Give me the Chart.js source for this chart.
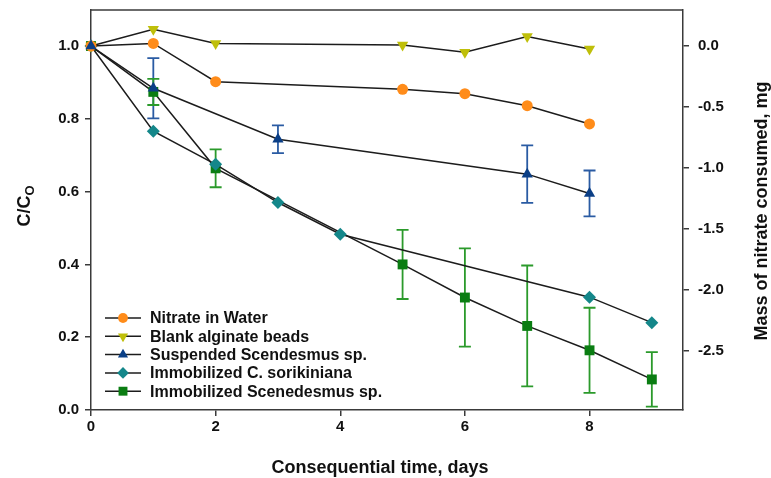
<!DOCTYPE html>
<html lang="en">
<head>
    <meta charset="UTF-8">
    <title>Nitrate removal</title>
    <script src="https://cdn.jsdelivr.net/npm/chart.js@4.4.0/dist/chart.umd.min.js"></script>
    <style>
        body {
            margin: 0;
            padding: 0;
            background: #ffffff;
        }
        .chart-box {
            width: 771px;
            height: 478px;
        }
    </style>
</head>
<body>
    <div class="chart-box">
        <canvas id="nitrateChart"></canvas>
    </div>

    <script>
        // values (C/Co against days)
        const waterDays = [0, 1, 2, 5, 6, 7, 8];
        const waterCC = [1.0, 1.007, 0.902, 0.881, 0.869, 0.836, 0.786];

        const blankDays = [0, 1, 2, 5, 6, 7, 8];
        const blankCC = [1.0, 1.046, 1.007, 1.003, 0.983, 1.026, 0.992];

        const suspDays = [0, 1, 3, 7, 8];
        const suspCC = [1.0, 0.884, 0.744, 0.648, 0.595];
        const suspErr = [0, 0.083, 0.038, 0.079, 0.063];

        const soroDays = [0, 1, 2, 3, 4, 8, 9];
        const soroCC = [1.0, 0.766, 0.675, 0.570, 0.483, 0.310, 0.240];

        const immoDays = [0, 1, 2, 5, 6, 7, 8, 9];
        const immoCC = [1.0, 0.874, 0.664, 0.400, 0.309, 0.231, 0.164, 0.084];
        const immoErr = [0, 0.036, 0.052, 0.095, 0.135, 0.166, 0.117, 0.075];

        const seriesNames = [
            'Nitrate in Water',
            'Blank alginate beads',
            'Suspended Scendesmus sp.',
            'Immobilized C. sorikiniana',
            'Immobilized Scenedesmus sp.'
        ];

        const xTicks = [0, 2, 4, 6, 8];
        const leftTicks = [0, 0.2, 0.4, 0.6, 0.8, 1.0];
        const rightTicks = [0, -0.5, -1.0, -1.5, -2.0, -2.5];

        const FONT = 'Arial, "Liberation Sans", sans-serif';
        const LINE = '#1c1c1c';
        const AXIS = '#3a3a3a';

        function pts(xs, ys) {
            return xs.map((x, i) => ({ x: x, y: ys[i] }));
        }

        function makeSet(label, xs, ys, color, style, radius, rotation, err, errColor) {
            return {
                label: label,
                data: pts(xs, ys),
                showLine: true,
                borderColor: LINE,
                borderWidth: 1.5,
                pointStyle: style,
                pointRadius: radius,
                pointRotation: rotation,
                pointBackgroundColor: color,
                pointBorderColor: color,
                pointBorderWidth: 0,
                clip: false,
                order: 0,
                errors: err || null,
                errorColor: errColor || null
            };
        }

        const datasets = [
            makeSet(seriesNames[0], waterDays, waterCC, '#ff8c1a', 'circle', 5.5, 0),
            makeSet(seriesNames[1], blankDays, blankCC, '#bfbf0a', 'triangle', 6.5, 180),
            makeSet(seriesNames[2], suspDays, suspCC, '#0b3f86', 'triangle', 6.5, 0, suspErr, '#2a5ba3'),
            makeSet(seriesNames[3], soroDays, soroCC, '#14878a', 'rectRot', 6.5, 0),
            makeSet(seriesNames[4], immoDays, immoCC, '#0a7d12', 'rect', 7, 0, immoErr, '#2b9a2b')
        ];
        // suspended series sits on top of the others at day 0
        datasets[2].order = -1;

        function drawMarker(ctx, style, r, rot, x, y, color) {
            ctx.save();
            ctx.fillStyle = color;
            ctx.translate(x, y);
            ctx.rotate(rot * Math.PI / 180);
            ctx.beginPath();
            if (style === 'circle') {
                ctx.arc(0, 0, r, 0, Math.PI * 2);
            } else if (style === 'triangle') {
                ctx.moveTo(0, -r);
                ctx.lineTo(r * 0.866, r * 0.5);
                ctx.lineTo(-r * 0.866, r * 0.5);
                ctx.closePath();
            } else if (style === 'rectRot') {
                ctx.moveTo(0, -r);
                ctx.lineTo(r, 0);
                ctx.lineTo(0, r);
                ctx.lineTo(-r, 0);
                ctx.closePath();
            } else {
                const h = r * Math.SQRT1_2;
                ctx.rect(-h, -h, 2 * h, 2 * h);
            }
            ctx.fill();
            ctx.restore();
        }

        // error bars, drawn under the markers
        const errorBars = {
            id: 'errorBars',
            beforeDatasetsDraw(chart) {
                const ctx = chart.ctx;
                const xs = chart.scales.x;
                const ys = chart.scales.y;
                chart.data.datasets.forEach(ds => {
                    if (!ds.errors) return;
                    ctx.save();
                    ctx.strokeStyle = ds.errorColor;
                    ctx.lineWidth = 1.8;
                    ds.data.forEach((p, i) => {
                        const e = ds.errors[i];
                        if (!e) return;
                        const px = xs.getPixelForValue(p.x);
                        const top = ys.getPixelForValue(p.y + e);
                        const bot = ys.getPixelForValue(p.y - e);
                        ctx.beginPath();
                        ctx.moveTo(px, top);
                        ctx.lineTo(px, bot);
                        ctx.moveTo(px - 6, top);
                        ctx.lineTo(px + 6, top);
                        ctx.moveTo(px - 6, bot);
                        ctx.lineTo(px + 6, bot);
                        ctx.stroke();
                    });
                    ctx.restore();
                });
            }
        };

        // frame, axis titles and the legend
        const decorations = {
            id: 'decorations',
            afterDraw(chart) {
                const ctx = chart.ctx;
                const a = chart.chartArea;
                ctx.save();
                ctx.strokeStyle = AXIS;
                ctx.lineWidth = 1.5;
                ctx.beginPath();
                ctx.moveTo(a.left, a.top);
                ctx.lineTo(a.right, a.top);
                ctx.stroke();

                ctx.fillStyle = '#111';
                ctx.textBaseline = 'middle';

                // bottom title
                ctx.font = 'bold 18px ' + FONT;
                ctx.textAlign = 'center';
                ctx.fillText('Consequential time, days', 380, 468);

                // right title
                ctx.save();
                ctx.translate(762, 211);
                ctx.rotate(-Math.PI / 2);
                ctx.fillText('Mass of nitrate consumed, mg', 0, 0);
                ctx.restore();

                // left title C/Co with subscript
                ctx.save();
                ctx.translate(25, 206);
                ctx.rotate(-Math.PI / 2);
                const main = 'C/C';
                ctx.font = 'bold 13px ' + FONT;
                const subW = ctx.measureText('O').width;
                ctx.font = 'bold 18px ' + FONT;
                const mainW = ctx.measureText(main).width;
                const start = -(mainW + subW) / 2;
                ctx.textAlign = 'left';
                ctx.fillText(main, start, 0);
                ctx.font = 'bold 13px ' + FONT;
                ctx.fillText('O', start + mainW, 5);
                ctx.restore();

                // legend
                const lx = a.left + 14;
                let ly = a.bottom - 92;
                ctx.textAlign = 'left';
                ctx.font = 'bold 16px ' + FONT;
                chart.data.datasets.forEach(ds => {
                    ctx.strokeStyle = LINE;
                    ctx.lineWidth = 1.5;
                    ctx.beginPath();
                    ctx.moveTo(lx, ly);
                    ctx.lineTo(lx + 36, ly);
                    ctx.stroke();
                    drawMarker(ctx, ds.pointStyle, ds.pointRadius * 0.9, ds.pointRotation,
                        lx + 18, ly, ds.pointBackgroundColor);
                    ctx.fillStyle = '#111';
                    ctx.fillText(ds.label, lx + 45, ly + 1);
                    ly += 18.3;
                });
                ctx.restore();
            }
        };

        const tickFont = { family: FONT, size: 15, weight: 'bold' };

        function fixWidth(w) {
            return s => {
                s.width = w;
                s.paddingTop = 0;
                s.paddingBottom = 0;
            };
        }

        new Chart(document.getElementById('nitrateChart'), {
            type: 'scatter',
            data: { datasets: datasets },
            options: {
                responsive: true,
                maintainAspectRatio: false,
                animation: false,
                layout: { padding: { top: 10, left: 0, right: 0, bottom: 0 } },
                plugins: {
                    legend: { display: false },
                    tooltip: { enabled: false }
                },
                scales: {
                    x: {
                        type: 'linear',
                        min: 0,
                        max: 9.5,
                        afterBuildTicks: s => { s.ticks = xTicks.map(v => ({ value: v })); },
                        afterFit: s => { s.height = 68; s.paddingLeft = 0; s.paddingRight = 0; },
                        grid: { drawOnChartArea: false, drawTicks: true, tickLength: 6, tickColor: AXIS, lineWidth: 1.5 },
                        border: { color: AXIS, width: 1.5 },
                        ticks: { font: tickFont, color: '#111', padding: 2, maxRotation: 0 }
                    },
                    y: {
                        position: 'left',
                        min: 0,
                        max: 1.099,
                        afterBuildTicks: s => { s.ticks = leftTicks.map(v => ({ value: v })); },
                        afterFit: fixWidth(91),
                        grid: { drawOnChartArea: false, drawTicks: true, tickLength: 6, tickColor: AXIS, lineWidth: 1.5 },
                        border: { color: AXIS, width: 1.5 },
                        ticks: { font: tickFont, color: '#111', padding: 6, callback: v => v.toFixed(1) }
                    },
                    y2: {
                        position: 'right',
                        min: -2.984,
                        max: 0.295,
                        afterBuildTicks: s => { s.ticks = rightTicks.map(v => ({ value: v })); },
                        afterFit: fixWidth(88),
                        grid: { drawOnChartArea: false, drawTicks: true, tickLength: 6, tickColor: AXIS, lineWidth: 1.5 },
                        border: { color: AXIS, width: 1.5 },
                        ticks: { font: tickFont, color: '#111', padding: 9, callback: v => v.toFixed(1) }
                    }
                }
            },
            plugins: [errorBars, decorations]
        });
    </script>
</body>
</html>
